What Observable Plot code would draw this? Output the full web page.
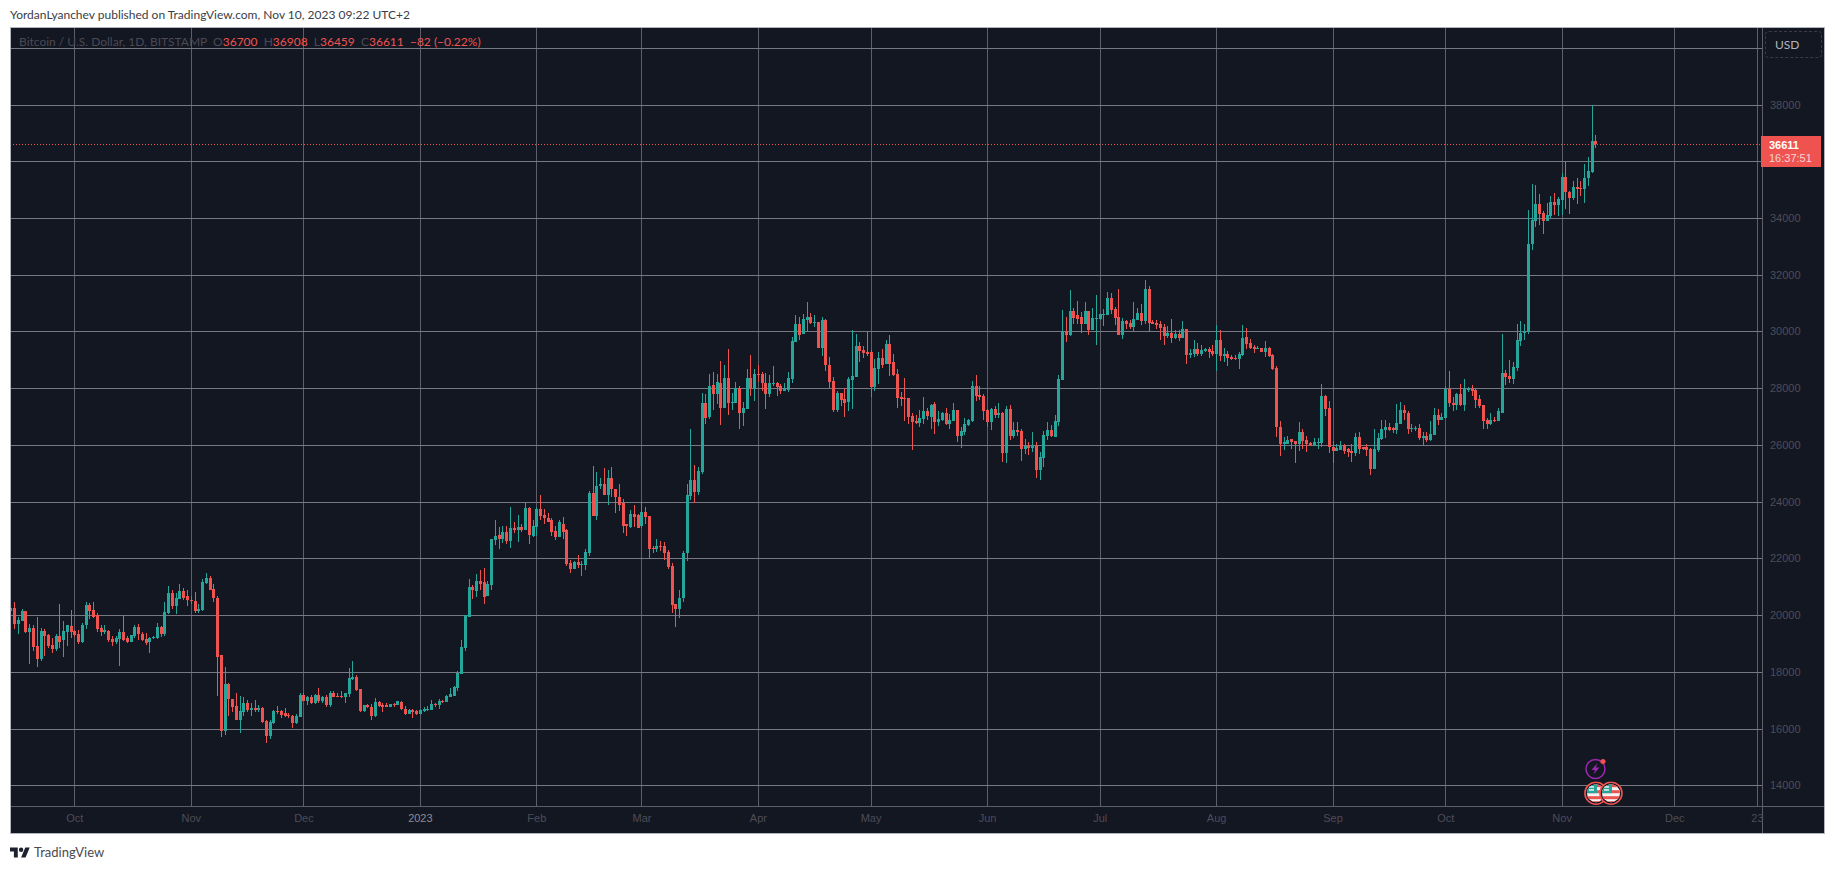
<!DOCTYPE html>
<html><head><meta charset="utf-8">
<script src="https://cdn.jsdelivr.net/npm/d3@7"></script>
<script src="https://cdn.jsdelivr.net/npm/@observablehq/plot@0.6"></script>
<style>
html,body{margin:0;padding:0;background:#fff;width:1835px;height:869px;overflow:hidden;font-family:Lato,sans-serif}
#title{position:absolute;left:10px;top:6px;font-size:12px;line-height:18px;color:#3a3d46;white-space:nowrap}
#chart{position:absolute;left:10px;top:27px}
#chart svg{display:block;outline:1px solid #b2b5be;outline-offset:-1px}
#legend{position:absolute;left:19px;top:33px;font-size:12px;line-height:18px;color:#4a4956;white-space:nowrap}
#legend b{font-weight:400;color:#ef5350}
#usd{position:absolute;left:1765px;top:31px;width:55px;height:25px;border:1px dashed #3a3944;border-radius:4px;color:#b2b5be;font-size:12px;line-height:25px;text-align:left;text-indent:9px}
#tag{position:absolute;left:1761px;top:136px;width:60px;height:31px;background:#ef5350;color:#fff;font-family:"Liberation Sans",sans-serif;font-size:11px;line-height:13px;padding-top:3px;box-sizing:border-box;text-indent:8px}
#tagPrice{font-weight:700}
#tagTime{color:#f3d5d6}
#footer{position:absolute;left:10px;top:844px;height:16px;display:flex;align-items:center;color:#4a4a4f;font-size:13px}
#footer svg{width:20px;height:14px;margin-right:4px}
</style></head><body>
<div id="title">YordanLyanchev published on TradingView.com, Nov 10, 2023 09:22 UTC+2</div>
<div id="chart"></div>
<div id="legend"></div>
<div id="usd">USD</div>
<div id="tag"><div id="tagPrice"></div><div id="tagTime"></div></div>
<div id="footer"><svg viewBox="0 0 36 24"><path fill="#1e222d" d="M14 22H7V11H0V4h14v18zM28 22h-8l7.5-18h8L28 22z"/><circle fill="#1e222d" cx="20" cy="8" r="4"/></svg>TradingView</div>
<script>
// Daily candles as [open, high, low, close], one array per month
const sep2022=[[20130,20540,19990,20250],[20250,20460,19520,19690],[19690,19950,19340,19840],[19800,20210,19800,20150],[20150,20150,19370,19420],[19420,19680,18280,19540],[19540,19640,18750,18870],[18920,19940,18190,18470],[18450,19540,18400,19450],[19450,19510,18570,19270],[19310,19340,18840,18900],[18950,19190,18680,18810],[18810,19320,18750,19270],[19270,20400,18840,19060],[19110,19800,18510,19450],[19420,19660,18900,19640],[19620,20190,19190,19390]];
const oct2022=[[19450,19480,19220,19310],[19340,19480,18970,19060],[19060,19740,19010,19660],[19640,20480,19520,20360],[20360,20420,19860,20160],[20190,20470,19890,19930],[20000,20070,19390,19520],[19550,19640,19270,19410],[19420,19640,19340,19480],[19450,19480,19070,19130],[19170,19270,18900,19060],[19060,19270,18990,19200],[19170,19510,18210,19410],[19410,19990,19100,19130],[19190,19270,19010,19050],[19060,19310,19060,19310],[19270,19670,19200,19590],[19590,19690,19110,19340],[19340,19390,19100,19130],[19170,19370,18950,19020],[19040,19220,18680,19200],[19180,19270,19150,19220],[19200,19720,19150,19590],[19590,19620,19220,19340],[19340,20450,19270,20120],[20090,21020,20050,20790],[20790,20890,20210,20310],[20310,20790,20050,20620],[20580,21100,20580,20860],[20860,20950,20520,20620],[20660,20890,20330,20520]];
const nov2022=[[20520,20680,20400,20490],[20490,20820,20070,20150],[20150,20400,20070,20220],[20190,21270,20130,21180],[21140,21480,21100,21320],[21320,21390,20890,20890],[20920,21100,20480,20590],[20610,20680,17160,18530],[18580,18600,15690,15900],[15900,18170,15780,17580],[17580,17600,16430,17030],[17050,17050,16600,16770],[16800,17250,16310,16310],[16310,17160,15830,16630],[16590,17120,16450,16900],[16900,17020,16600,16660],[16670,16910,16450,16720],[16720,17020,16570,16670],[16670,16840,16600,16730],[16730,16780,16190,16240],[16260,16310,15510,15750],[15750,16310,15640,16240],[16200,16660,16170,16630],[16630,16800,16520,16590],[16630,16660,16390,16480],[16560,16730,16400,16450],[16480,16550,16390,16430],[16460,16490,16040,16200],[16200,16520,16150,16450],[16420,17270,16420,17190]];
const dec2022=[[17190,17250,16960,16980],[16980,17140,16840,17120],[17120,17190,16870,16890],[16890,17230,16870,17170],[17170,17440,16900,16960],[16960,17160,16900,17110],[17130,17170,16780,16840],[16830,17340,16780,17260],[17260,17340,17110,17120],[17160,17270,17100,17120],[17160,17310,17070,17100],[17100,17270,16900,17240],[17230,18150,17130,17790],[17740,18390,17700,17830],[17830,17900,17330,17370],[17400,17400,16590,16630],[16630,16840,16600,16820],[16820,16860,16720,16750],[16780,16860,16310,16440],[16440,17070,16420,16940],[16940,16960,16750,16800],[16840,16920,16590,16780],[16840,16900,16770,16780],[16770,16880,16770,16860],[16860,16900,16760,16820],[16850,16990,16830,16960],[16950,16970,16640,16680],[16700,16800,16480,16520],[16520,16680,16520,16660],[16660,16680,16380,16590],[16620,16660,16480,16520]];
const jan2023=[[16520,16680,16520,16660],[16620,16780,16580,16690],[16670,16800,16610,16700],[16660,17010,16640,16870],[16860,16920,16760,16820],[16830,17060,16690,16980],[16970,17010,16920,16950],[16940,17170,16940,17150],[17120,17440,17120,17220],[17150,17500,17150,17470],[17430,18020,17340,17960],[17920,19120,17920,18870],[18840,19990,18730,19990],[19930,21270,19930,20990],[20990,21050,20560,20880],[20840,21460,20630,21190],[21190,21600,20880,21110],[21160,21650,20390,20630],[20670,21190,20670,21090],[21050,22670,20880,22670],[22640,23370,22460,22780],[22810,23090,22320,22670],[22670,23160,22540,22920],[22920,23160,22500,22600],[22600,23830,22350,23060],[23060,23300,22880,22990],[22990,23520,22570,23090],[23090,23200,22920,22990],[22990,23970,22990,23760],[23760,23800,22500,22810],[22780,23340,22740,23130]];
const feb2023=[[23090,23800,22780,23730],[23730,24250,23370,23480],[23520,23730,23230,23410],[23410,23590,23270,23300],[23340,23430,22780,22920],[22950,23160,22640,22740],[22740,23340,22740,23270],[23230,23450,22700,22920],[22990,23020,21720,21790],[21830,21930,21480,21620],[21620,21900,21620,21860],[21860,22110,21650,21760],[21770,21900,21370,21810],[21760,22320,21580,22210],[22180,24360,22070,24320],[24320,25270,23480,23480],[23480,25030,23370,24570],[24540,24850,24460,24640],[24640,25170,24220,24250],[24250,25130,23870,24850],[24850,25240,24180,24430],[24460,24460,23590,24150],[24180,24610,23660,23900],[23940,24110,22880,23160],[23200,23230,22780,23130],[23090,23690,23060,23550],[23550,23900,23090,23450],[23520,23570,23060,23080]];
const mar2023=[[23130,24000,23080,23620],[23620,23800,23200,23450],[23480,23480,22000,22320],[22360,22430,22180,22320],[22320,22670,22210,22430],[22430,22600,22250,22390],[22430,22570,21930,22180],[22210,22280,21620,21690],[21720,21830,20070,20350],[20390,20410,19590,20210],[20210,20880,19890,20620],[20600,22270,20460,22180],[22180,24610,21910,24220],[24200,26560,24060,24760],[24760,25290,23940,24340],[24340,25220,24240,25080],[25050,27830,24980,27480],[27480,27780,26740,26950],[26980,28500,26910,28070],[28110,28570,27230,27790],[27790,28500,27440,28220],[28180,28960,26700,27300],[27300,28810,27300,28360],[28360,29380,27050,27480],[27480,27830,27230,27520],[27480,28220,27480,28000],[28000,28070,26560,27120],[27120,27510,26670,27300],[27260,28670,27260,28360],[28360,29170,27720,28000],[27970,28670,27550,28500]];
const apr2023=[[28500,28810,28230,28460],[28500,28570,27900,28180],[28180,28530,27260,27790],[27790,28460,27690,28180],[28150,28780,28070,28190],[28180,28220,27720,28040],[28070,28150,27790,27900],[27900,28180,27900,28000],[27930,28570,27860,28360],[28320,29800,28180,29660],[29620,30580,29620,30260],[30260,30500,29690,29870],[29900,30610,29900,30430],[30400,31030,30010,30500],[30500,30650,30260,30290],[30290,30580,30150,30330],[30330,30330,29410,29410],[29410,30500,29130,30400],[30400,30430,28600,28810],[28810,29100,28000,28220],[28250,28390,27160,27230],[27230,27900,27160,27830],[27830,27830,27370,27580],[27620,28000,26980,27480],[27510,28390,27190,28320],[28290,30050,27260,28430],[28390,29910,28390,29480],[29480,29620,28920,29310],[29340,29480,29060,29240],[29270,29980,29130,29200]];
const may2023=[[29270,29340,27690,28040],[28040,29030,27900,28710],[28670,29270,28150,29060],[29060,29380,28710,28810],[28850,29690,28850,29550],[29550,29870,28430,28850],[28920,29200,28430,28460],[28500,28670,27300,27650],[27690,27860,27370,27620],[27650,28360,26840,27610],[27650,27650,26740,26980],[27020,27120,25820,26810],[26840,27050,26740,26770],[26770,27230,26630,26950],[26910,27690,26740,27190],[27190,27300,26880,27020],[26980,27440,26560,27410],[27440,27510,26380,26810],[26810,27190,26670,26910],[26880,27160,26840,27120],[27120,27300,26700,26740],[26740,27090,26560,26880],[26840,27480,26840,27230],[27230,27230,26100,26310],[26310,26630,25890,26490],[26450,26950,26350,26740],[26700,26910,26670,26880],[26840,28250,26810,28070],[28070,28460,27550,27720],[27760,28070,27580,27690],[27720,27790,26880,27190]];
const jun2023=[[27230,27260,26630,26810],[26810,27300,26520,27260],[27260,27370,26950,27050],[27050,27480,26950,27120],[27120,27160,25400,25720],[25720,27370,25360,27260],[27260,27410,26170,26310],[26310,26810,26240,26520],[26520,26810,26310,26450],[26490,26560,25430,25860],[25860,26210,25680,25960],[25960,26100,25640,25890],[25890,26450,25750,25960],[25960,26100,24830,25120],[25120,25750,24760,25570],[25540,26490,25220,26350],[26310,26810,26170,26520],[26520,26700,26280,26310],[26280,27050,26280,26840],[26810,28460,26670,28320],[28290,30740,28290,30000],[30000,30500,29620,29870],[29870,31460,29840,30720],[30710,30810,30270,30490],[30570,31060,30270,30430],[30500,30670,29930,30250],[30250,31030,30250,30710],[30710,30710,29860,30040],[30040,30810,30040,30460],[30430,31270,29510,30460]];
const jul2023=[[30430,30610,30400,30600],[30570,30780,30180,30600],[30570,31380,30570,31170],[31170,31340,30600,30740],[30780,30850,30220,30460],[30500,31480,29860,29860],[29860,30460,29720,30360],[30360,30390,30070,30250],[30290,30420,30070,30150],[30150,31030,30000,30430],[30390,30810,30390,30640],[30640,30960,30220,30360],[30360,31800,30250,31480],[31480,31620,29990,30290],[30320,30390,30250,30250],[30290,30420,30070,30220],[30250,30360,29690,30110],[30150,30250,29510,29830],[29830,30180,29760,29930],[29930,30430,29580,29760],[29760,30040,29720,29900],[29900,30040,29650,29760],[29760,30360,29760,30070],[30070,30100,28840,29160],[29160,29370,29050,29230],[29190,29690,29090,29370],[29370,29580,29120,29190],[29190,29510,29120,29330],[29300,29410,29260,29370],[29370,29440,29050,29260],[29300,29510,29120,29190]];
const aug2023=[[29190,30220,28600,29690],[29690,30040,28950,29120],[29120,29410,28910,29190],[29190,29300,28770,29050],[29090,29160,28980,29030],[29060,29160,28980,29020],[29020,29260,28670,29190],[29160,30220,29120,29760],[29790,30110,29370,29550],[29580,29720,29370,29410],[29440,29510,29230,29370],[29370,29480,29370,29410],[29410,29410,29260,29260],[29260,29650,29090,29410],[29410,29440,29090,29120],[29160,29190,28630,28670],[28700,28770,26270,26620],[26620,26830,25600,26020],[26020,26270,25810,26090],[26050,26310,26020,26190],[26200,26200,25850,26090],[26130,26130,25360,26020],[26020,26800,25800,26450],[26450,26560,25850,26130],[26170,26310,25740,26020],[26060,26100,25950,25990],[25990,26240,25950,26100],[26060,26240,25850,26100],[26060,28140,25920,27720],[27720,27750,27010,27260],[27290,27540,25710,25920]];
const sep2023=[[25920,26130,25360,25780],[25780,26020,25780,25880],[25810,26130,25810,25950],[25990,26020,25670,25780],[25850,25890,25570,25740],[25780,26020,25390,25710],[25710,26410,25600,26270],[26270,26450,25670,25850],[25920,25920,25810,25850],[25920,26020,25600,25810],[25850,25890,24930,25140],[25140,26550,25140,25850],[25810,26410,25740,26240],[26200,26870,26170,26550],[26520,26870,26240,26620],[26620,26770,26480,26520],[26590,26620,26410,26520],[26520,27430,26380,26760],[26730,27500,26730,27220],[27220,27400,26870,27120],[27120,27190,26380,26550],[26550,26730,26450,26590],[26550,26660,26480,26590],[26590,26730,26170,26240],[26240,26450,26000,26310],[26310,26450,26090,26170],[26170,26830,26130,26380],[26340,27290,26340,27050],[27050,27260,26690,26870],[26870,27120,26870,26980]];
const oct2023=[[26940,28070,26940,27980],[27980,28600,27340,27480],[27480,27690,27200,27410],[27410,27830,27230,27800],[27800,28150,27370,27410],[27410,28320,27200,27970],[27950,28030,27870,28000],[28000,28110,27730,27900],[27940,28000,27300,27590],[27620,27760,27300,27370],[27410,27410,26570,26850],[26880,26950,26570,26740],[26740,27130,26710,26880],[26880,26990,26810,26850],[26850,27300,26850,27200],[27130,29910,27130,28530],[28530,28640,28110,28390],[28430,28990,28180,28320],[28320,28920,28150,28750],[28710,30260,28610,29700],[29660,30370,29490,29950],[29930,30260,29700,30000],[29970,34280,29910,33080],[33080,35190,32870,33930],[33910,35160,33680,34490],[34490,34840,33750,34140],[34170,34240,33430,33890],[33890,34530,33890,34100],[34070,34770,34000,34560],[34560,34880,34100,34450],[34450,34740,34070,34670]];
const nov2023=[[34650,35600,34100,35440],[35440,35970,34310,34910],[34930,34950,34140,34700],[34700,35300,34630,35090],[35090,35410,34490,35020],[35050,35300,34770,35010],[35020,35900,34530,35410],[35410,36150,35120,35650],[35630,37980,35580,36700],[36700,36908,36459,36611]];

const firstDay = new Date(Date.UTC(2022,8,14));
const months = [sep2022,oct2022,nov2022,dec2022,jan2023,feb2023,mar2023,apr2023,may2023,jun2023,jul2023,aug2023,sep2023,oct2023,nov2023];

// Time axis ticks and labels
const tickDates = ["2022-10-01","2022-11-01","2022-12-01","2023-01-01","2023-02-01","2023-03-01","2023-04-01","2023-05-01","2023-06-01","2023-07-01","2023-08-01","2023-09-01","2023-10-01","2023-11-01","2023-12-01","2023-12-23"].map(s=>new Date(s+"T00:00Z"));
const tickLabels = ["Oct","Nov","Dec","2023","Feb","Mar","Apr","May","Jun","Jul","Aug","Sep","Oct","Nov","Dec","23"];
// Price axis
const gridPrices = [14000,16000,18000,20000,22000,24000,26000,28000,30000,32000,34000,36000,38000,40000];
const labelPrices = gridPrices.slice(0,-1);
const priceDomain = [13273,40732];
const timeDomain = [new Date(Date.UTC(2022,8,13,21)), new Date(Date.UTC(2023,11,24,5))];
// Last price tag and header
const lastPrice = 36611, lastOpen = 36700, lastHigh = 36908, lastLow = 36459, lastChange = "−82 (−0.22%)", countdown = "16:37:51";
// Event markers on the last candles
const flagDates = [new Date("2023-11-10T00:00Z"), new Date("2023-11-14T00:00Z")];
const flagPrice = 13742;
const newsDates = [new Date("2023-11-10T00:00Z")];
const newsPrice = 14612;

const UP="#26a69a", DOWN="#ef5350", GRIDH="#787884", GRIDV="#5e5e6a", EDGE="#5e5e6a", DIM="#4e4c58";
const candles = months.flat().map(([open,high,low,close],i)=>({date:d3.utcDay.offset(firstDay,i),open,high,low,close,color:close>=open?UP:DOWN}));

const svgUri = s => "data:image/svg+xml,"+encodeURIComponent(s);
const flagIcon = svgUri(`<svg xmlns="http://www.w3.org/2000/svg" viewBox="0 0 24 24"><defs><clipPath id="c"><circle cx="12" cy="12" r="9"/></clipPath></defs><circle cx="12" cy="12" r="11" fill="#131722" stroke="#ef5350" stroke-width="1.6"/><g clip-path="url(#c)"><rect width="24" height="24" fill="#f4f4f4"/><rect y="3" width="24" height="3" fill="#ef5350"/><rect y="9" width="24" height="3" fill="#ef5350"/><rect y="15" width="24" height="3" fill="#ef5350"/><rect y="20" width="24" height="4" fill="#ef5350"/><rect x="2" y="3" width="11" height="9" fill="#26a69a"/><rect x="5" y="5" width="5" height="1.5" fill="#f4f4f4"/><rect x="5" y="8" width="5" height="1.5" fill="#f4f4f4"/></g></svg>`);
const newsIcon = svgUri(`<svg xmlns="http://www.w3.org/2000/svg" viewBox="0 0 24 24"><circle cx="11.5" cy="12.5" r="9.5" fill="#131722" stroke="#9c27b0" stroke-width="1.5"/><path d="M13.5 6.5 7.5 13.5h3.6l-1.6 4.6 6-7h-3.6z" fill="#9c27b0"/><circle cx="19" cy="5" r="2.6" fill="#ef5350"/></svg>`);

const chart = Plot.plot({
  width:1815, height:807,
  marginLeft:0, marginRight:63.5, marginTop:0, marginBottom:28,
  style:{background:"#131722", fontFamily:"'Liberation Sans',sans-serif", fontSize:"11px"},
  x:{type:"utc", domain:timeDomain},
  y:{type:"linear", domain:priceDomain},
  marks:[
    Plot.ruleX(tickDates,{stroke:GRIDV,strokeWidth:1,shapeRendering:"crispEdges"}),
    Plot.ruleY(gridPrices,{stroke:GRIDH,strokeWidth:1,shapeRendering:"crispEdges"}),
    Plot.ruleY([priceDomain[0]],{stroke:EDGE,insetRight:-63.5,shapeRendering:"crispEdges"}),
    Plot.ruleX([timeDomain[1]],{stroke:EDGE,insetBottom:-28,shapeRendering:"crispEdges"}),
    Plot.ruleY([lastPrice],{stroke:DOWN,strokeWidth:1,strokeDasharray:"1 2",shapeRendering:"crispEdges"}),
    Plot.ruleX(candles,{x:"date",y1:"low",y2:"high",stroke:"color",strokeWidth:1,clip:true,shapeRendering:"crispEdges"}),
    Plot.ruleX(candles,{x:"date",y1:"open",y2:"close",stroke:"color",strokeWidth:3,clip:true,shapeRendering:"crispEdges"}),
    Plot.image(newsDates,{x:d=>d,y:()=>newsPrice,width:24,height:24,src:newsIcon}),
    Plot.image(flagDates,{x:d=>d,y:()=>flagPrice,width:24,height:24,src:flagIcon}),
    Plot.axisX(tickDates.filter((d,i)=>tickLabels[i]!=="2023"),{anchor:"bottom",tickSize:0,tickPadding:8,label:null,color:DIM,
      tickFormat:d=>tickLabels[tickDates.findIndex(t=>+t===+d)]}),
    Plot.axisX(tickDates.filter((d,i)=>tickLabels[i]==="2023"),{anchor:"bottom",tickSize:0,tickPadding:8,label:null,color:"#8a8c96",
      tickFormat:d=>tickLabels[tickDates.findIndex(t=>+t===+d)]}),
    Plot.axisY(labelPrices,{anchor:"right",tickSize:0,tickPadding:8,label:null,color:DIM,tickFormat:d=>String(d)})
  ]
});
document.getElementById("chart").append(chart);

document.getElementById("legend").innerHTML =
  `Bitcoin / U.S. Dollar, 1D, BITSTAMP &nbsp;O<b>${lastOpen}</b> &nbsp;H<b>${lastHigh}</b> &nbsp;L<b>${lastLow}</b> &nbsp;C<b>${lastPrice}</b> &nbsp;<b>${lastChange}</b>`;
document.getElementById("tagPrice").textContent = lastPrice;
document.getElementById("tagTime").textContent = countdown;
</script>
</body></html>
